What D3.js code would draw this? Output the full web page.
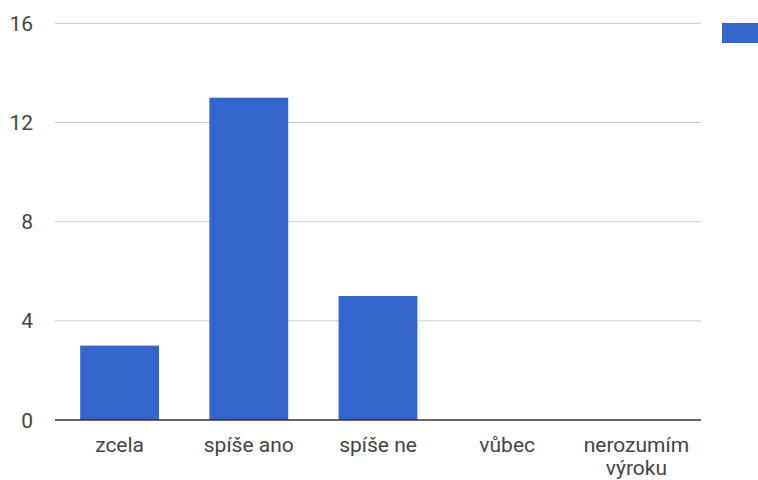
<!DOCTYPE html>
<html>
<head>
<meta charset="utf-8">
<script src="https://cdn.jsdelivr.net/npm/d3@7"></script>
<style>
  html, body { margin: 0; padding: 0; background: #fff; }
  svg { display: block; font-family: Roboto, Arial, sans-serif; }
</style>
</head>
<body>
<svg id="chart" width="758" height="480"></svg>
<script>
// Survey answers and their counts
const categories = ["zcela", "spíše ano", "spíše ne", "vůbec", "nerozumím výroku"];
const counts = [3, 13, 5, 0, 0];
const yTicks = [0, 4, 8, 12, 16];

const svg = d3.select("#chart");
const plot = { left: 55, right: 701, top: 23.3, bottom: 420 };
const fontSize = 21;

const x = d3.scaleBand()
  .domain(categories)
  .range([plot.left, plot.right])
  .paddingInner(0.39)
  .paddingOuter(0.195);

const y = d3.scaleLinear()
  .domain([0, 16])
  .range([plot.bottom, plot.top]);

// Horizontal gridlines
svg.append("g")
  .selectAll("line")
  .data(yTicks.filter(d => d !== 0))
  .join("line")
  .attr("x1", plot.left)
  .attr("x2", plot.right)
  .attr("y1", d => y(d))
  .attr("y2", d => y(d))
  .attr("stroke", "#cccccc")
  .attr("stroke-width", 1);

// Y tick labels
svg.append("g")
  .selectAll("text")
  .data(yTicks)
  .join("text")
  .attr("x", 33)
  .attr("y", d => y(d))
  .attr("dy", "0.36em")
  .attr("text-anchor", "end")
  .attr("fill", "#444")
  .attr("font-size", fontSize)
  .text(d => d);

// Bars
svg.append("g")
  .selectAll("rect")
  .data(categories.map((c, i) => ({ c, v: counts[i] })))
  .join("rect")
  .attr("x", d => x(d.c))
  .attr("width", x.bandwidth())
  .attr("y", d => y(d.v))
  .attr("height", d => y(0) - y(d.v))
  .attr("fill", "#3366cc");

// Baseline
svg.append("line")
  .attr("x1", plot.left)
  .attr("x2", plot.right)
  .attr("y1", y(0))
  .attr("y2", y(0))
  .attr("stroke", "#333")
  .attr("stroke-width", 1.5);

// Category labels, wrapped onto two lines where needed
const wrapped = {
  "nerozumím výroku": ["nerozumím", "výroku"]
};
const xLabels = svg.append("g")
  .selectAll("text")
  .data(categories)
  .join("text")
  .attr("text-anchor", "middle")
  .attr("fill", "#444")
  .attr("font-size", fontSize)
  .attr("x", d => x(d) + x.bandwidth() / 2)
  .attr("y", 451.5);
xLabels.each(function (d) {
  const lines = wrapped[d] || [d];
  d3.select(this).selectAll("tspan")
    .data(lines)
    .join("tspan")
    .attr("x", x(d) + x.bandwidth() / 2)
    .attr("dy", (l, i) => i === 0 ? 0 : 23.5)
    .text(l => l);
});

// Legend swatch
svg.append("rect")
  .attr("x", 722)
  .attr("y", 23)
  .attr("width", 40)
  .attr("height", 20)
  .attr("fill", "#3366cc");
</script>
</body>
</html>
